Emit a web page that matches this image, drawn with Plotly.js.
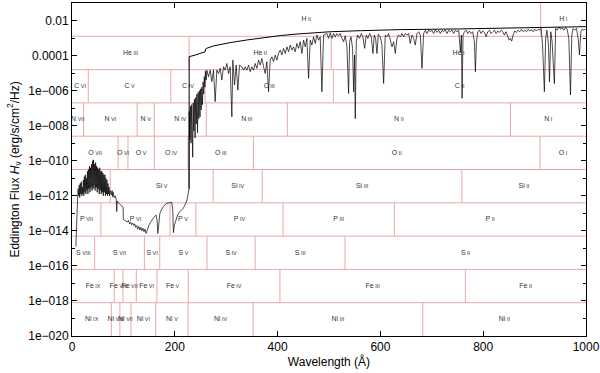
<!DOCTYPE html>
<html><head><meta charset="utf-8">
<script src="https://cdn.plot.ly/plotly-3.0.1.min.js"></script>
<style>html,body{margin:0;padding:0;background:#fff}#chart{width:600px;height:373px}</style>
</head><body><div id="chart"></div>
<script>
// ---- Data: model spectrum, [wavelength (Å), log10 Eddington flux] ----
const spectrum = [
[7.5,-14.9],[8.5,-13.6],[9.5,-12.6],[10.3,-12.2],
[11,-12.1],[12,-11.6],[13,-12.0],[14,-11.4],[15,-12.1],[16,-11.3],[17,-11.9],[18,-11.2],[19,-12.0],[20,-11.5],
[21,-11.9],[22,-11.1],[23,-12.0],[24,-10.9],[25,-11.8],[26,-10.8],[27,-11.9],[28,-11.0],[29,-11.7],[30,-10.6],
[31,-11.9],[32,-10.5],[33,-11.6],[34,-10.3],[35,-11.8],[36,-10.4],[37,-11.5],[38,-10.2],[39,-11.7],[40,-10.0],
[41,-11.6],[42,-9.95],[43,-11.4],[44,-10.2],[45,-11.7],[46,-10.1],[47,-11.5],[48,-10.3],[49,-11.8],[50,-10.4],
[51,-11.6],[52,-10.5],[53,-11.9],[54,-10.4],[55,-11.7],[56,-10.6],[57,-11.9],[58,-10.6],[59,-11.8],[60,-10.7],
[61,-12.0],[62,-10.8],[63,-11.8],[64,-10.8],[65,-12.0],[66,-11.0],[67,-11.9],[68,-11.1],[69,-12.0],[70,-11.3],
[71,-11.9],[72,-11.5],[73,-12.0],[74,-11.7],
[75,-11.85],[77,-11.95],[78,-11.7],[79,-12.05],[80,-11.8],[82,-12.1],[84,-12.0],[86,-12.2],[87,-12.9],[88,-12.3],
[90,-12.4],[92,-12.45],[95,-12.5],[98,-12.6],[99.5,-12.65],[100,-13.35],[103,-13.4],[106,-13.45],[108,-13.5],
[110,-13.4],[112,-13.6],[114,-13.5],[116,-13.65],[118,-13.55],[120,-13.7],[122,-13.6],[124,-13.8],[126,-13.7],
[128,-13.9],[130,-13.75],[132,-13.95],[134,-13.8],[136,-14.0],[138,-13.85],[140,-14.05],[142,-13.9],[144,-14.15],
[146,-14.0],[148,-13.8],[150,-13.65],[153,-13.5],[156,-13.35],[160,-13.2],[163.5,-13.1],[165.5,-13.4],[167,-14.15],
[168.5,-13.5],[171,-13.0],[175,-12.75],[178,-12.6],[183,-12.45],[188,-12.4],[194,-12.37],[196,-12.8],[197.3,-14.1],
[199,-13.7],[202.5,-13.3],[206,-13.05],[210,-12.9],[216.8,-12.7],[220,-12.5],[223,-12.3],[225,-12.05],[226.5,-11.8],
[227.6,-11.6],
[228.0,-7.2],[229.2,-8.8],[230.4,-6.9],[231.6,-9.0],[232.8,-6.8],[234.0,-8.4],[234.8,-9.8],[235.8,-6.7],[237.0,-8.3],
[238.2,-6.5],[239.4,-8.7],[240.6,-6.4],[241.8,-7.9],[243.0,-6.2],[244.2,-8.4],[245.4,-6.1],[246.6,-7.6],[247.8,-6.0],
[249.0,-7.5],[250.2,-5.9],[251.4,-7.1],[252.6,-5.8],[253.8,-6.8],[255.0,-5.5],[256.2,-6.2],[257.4,-5.2],[258.6,-5.8],
[259.8,-4.9],[261.0,-5.4],
[262.3,-4.83],[265.5,-5.21],[268.8,-4.83],[272.0,-5.49],[275.3,-4.83],[278.5,-6.63],[281.8,-4.83],[285.0,-5.02],
[288.3,-4.73],[291.5,-5.40],[294.8,-4.64],[298.0,-4.83],[301.2,-4.45],[304.5,-5.02],[307.7,-4.64],[311.0,-7.49],
[312.9,-4.26],[316.2,-5.68],[319.4,-4.54],[322.7,-5.97],[325.9,-4.54],[330.5,-4.64],[333.7,-4.83],[337.0,-4.64],
[340.2,-4.83],[343.5,-4.54],[346.7,-4.92],[350.0,-4.64],[353.2,-4.83],[356.4,-4.45],[359.7,-4.73],[362.9,-4.26],
[366.2,-4.54],[369.4,-4.16],[372.7,-4.64],[375.9,-5.02],[379.1,-4.35],[382.4,-6.06],[385.6,-4.26],[388.9,-4.07],
[392.1,-4.35],[395.4,-3.97],[398.6,-4.26],[401.8,-3.88],[405.1,-3.69],[408.3,-3.97],[411.6,-3.59],[414.8,-3.88],
[418.1,-3.50],[421.3,-3.78],[424.6,-3.40],[427.8,-3.69],[431.0,-3.50],[434.3,-3.78],[437.5,-3.31],[440.8,-3.59],
[444.0,-3.21],[447.3,-3.88],[450.5,-3.12],[453.8,-3.50],[457.0,-3.02],[460.2,-5.30],[463.5,-3.12],[466.7,-3.40],
[470.0,-2.93],[473.2,-3.31],[476.5,-2.83],[479.7,-3.12],[482.9,-2.93],[486.2,-6.06],[489.4,-2.83],[495.9,-2.74],
[499.2,-3.02],[502.4,-2.70],
[505.7,-3.02],[508.9,-2.74],[512.2,-2.93],[515.4,-2.74],[518.7,-2.87],[521.9,-2.74],[525.1,-3.02],[528.4,-3.21],
[531.6,-2.87],[534.9,-3.50],[538.1,-6.16],[540.1,-3.21],[542.7,-2.93],[545.9,-3.59],[547.9,-6.06],[549.8,-3.97],
[551.1,-7.6],[553.1,-3.21],[555.7,-2.83],[559.5,-3.02],[562.8,-2.74],[566.0,-2.93],[569.3,-3.59],[572.5,-2.83],
[575.8,-3.02],[579.0,-2.74],[582.3,-2.93],[585.5,-3.88],[588.1,-2.83],[590.7,-3.02],[593.3,-3.88],[595.9,-2.79],
[599.8,-2.93],[603.0,-3.40],[606.3,-5.59],[609.5,-2.83],[612.8,-2.93],[616.0,-2.74],[619.3,-3.12],[622.5,-3.50],
[625.7,-3.21],[629.0,-3.88],[632.2,-3.02],[635.5,-2.83],[638.7,-2.93],[642.0,-2.74],[645.2,-2.93],[648.5,-2.74],
[651.7,-2.83],[654.9,-2.74],[658.2,-3.31],[661.4,-2.83],[664.7,-3.02],[667.9,-3.40],[671.2,-2.74],[674.4,-2.64],
[677.7,-2.83],[680.9,-4.73],[684.1,-2.74],[687.4,-2.56],[690.6,-2.74],[693.9,-2.53],[697.1,-2.64],[700.4,-2.56],
[703.6,-2.74],[706.9,-2.53],[710.1,-2.68],[713.4,-2.56],[716.6,-2.74],[719.9,-2.56],[723.1,-2.64],[726.3,-2.53],
[729.6,-2.74],[732.8,-2.56],[736.1,-2.64],[739.3,-2.54],[742.6,-2.74],[745.8,-2.56],
[749.1,-2.64],[752.4,-2.55],[755.6,-3.78],[757.6,-2.83],[758.9,-6.44],[760.8,-2.83],[763.4,-2.64],[766.7,-2.55],
[769.9,-2.74],[773.2,-2.60],[776.4,-2.74],[779.6,-2.64],[782.9,-3.21],[784.8,-4.92],[786.8,-3.21],[789.4,-2.64],
[792.6,-2.55],[795.9,-2.74],[799.1,-2.60],[802.4,-2.68],[805.6,-2.93],[808.9,-2.64],[812.1,-2.55],[815.3,-2.74],
[818.6,-2.64],[821.8,-2.55],[825.1,-2.74],[828.3,-2.60],[831.6,-2.68],[834.8,-2.55],[838.1,-2.64],[841.3,-2.83],
[844.5,-2.64],[847.8,-2.93],[850.4,-3.12],[853.0,-3.02],[855.6,-3.17],[858.2,-2.83],[861.4,-2.60],[864.7,-2.68],
[867.9,-2.55],[871.2,-2.64],[874.4,-2.50],[877.6,-2.64],[880.9,-2.55],[884.1,-2.64],[887.4,-2.50],[890.6,-2.60],
[893.9,-2.53],[897.1,-2.64],[900.4,-2.50],[903.6,-2.60],[906.9,-2.49],[910.1,-2.55],[912.7,-2.45],[915.5,-3.4],
[919.0,-6.06],[921.5,-3.02],[924.0,-2.55],[927.0,-3.4],[929.0,-5.5],[931.5,-2.64],[934.0,-3.2],[938.5,-5.6],
[941.0,-2.45],[943.8,-2.55],[947.1,-2.36],[950.3,-2.49],[953.6,-2.41],[956.8,-2.55],[960.1,-2.41],[963.3,-2.49],
[966.6,-3.02],[969.8,-6.25],[972.4,-2.83],[975.0,-2.45],[978.2,-2.55],[981.5,-2.45],[984.7,-3.02],[987.3,-3.97],
[989.9,-2.64],[992.5,-2.49],[995.8,-2.55],[999.0,-2.49]
];
// Upper smooth (continuum) curve, [wavelength (Å), log10 flux]
const continuum = [
[227.8,-11.6],[228.0,-4.06],[240,-3.97],[255.7,-3.81],[259,-3.78],[260,-3.62],[262.3,-3.58],[275.2,-3.45],
[290,-3.35],[307.7,-3.26],[340.2,-3.11],[372.5,-2.98],[405,-2.86],[437.6,-2.77],[470,-2.69],[502.4,-2.64],
[561,-2.58],[638.7,-2.52],[751.7,-2.48],[833.5,-2.45],[911.4,-2.42],[1000,-2.35]
];
// Ionization-edge rows (top to bottom)
const rowElements = ['H','He','C','N','O','Si','P','S','Fe','Ni'];
const rowEdges = [
[911.8],
[227.8,504.3],
[31.62,192.2,258.9,508.5],
[22.46,126.7,160.0,261.3,418.9,853.1],
[89.77,108.9,160.2,225.7,353.0,910.4],
[74.35,274.7,370.2,758.5],
[56.25,190.7,241.0,410.5,627.2],
[44.13,140.8,170.8,262.6,356.4,531.2],
[82.1,99.2,125.1,165.3,226.2,404.5,765.3],
[76.5,93.2,114.8,163.0,225.8,352.3,682.4]
];
const rowIons = [
['II','I'],
['III','II','I'],
['VI','V','IV','III','II'],
['VII','VI','V','IV','III','II','I'],
['VII','VI','V','IV','III','II','I'],
['VI','V','IV','III','II'],
['VII','VI','V','IV','III','II'],
['VIII','VII','VI','V','IV','III','II'],
['IX','VIII','VII','VI','V','IV','III','II'],
['IX','VIII','VII','VI','V','IV','III','II']
];
const xRange = [0, 1000];
const yLogRange = [-20, -1];
const xTickVals = [0,200,400,600,800,1000];
const yTickExp = [-20,-18,-16,-14,-12,-10,-8,-6,-4,-2];
const yTickText = ['1e\u2212020','1e\u2212018','1e\u2212016','1e\u2212014','1e\u2212012','1e\u2212010','1e\u2212008','1e\u2212006','0.0001','0.01'];
const yMinorExp = [-19,-17,-15,-13,-11,-9,-7,-5,-3];

// ---- Build ----
const EDGE = '#eaa8a8';
const shapes = [];
const lx = [], ly = [], lt = [];
const nRows = rowElements.length;
const rowH = (yLogRange[1]-yLogRange[0])/nRows;
for (let k = 1; k < nRows; k++) {
  shapes.push({type:'line', xref:'paper', yref:'paper', x0:0, x1:1, y0:k/nRows, y1:k/nRows,
    line:{color:EDGE, width:1}, layer:'below'});
}
rowElements.forEach((el, t) => {
  const rb = nRows-1-t;
  const edges = rowEdges[t];
  edges.forEach(e => shapes.push({type:'line', xref:'x', yref:'paper', x0:e, x1:e,
    y0:rb/nRows, y1:(rb+1)/nRows, line:{color:EDGE, width:1}, layer:'below'}));
  const b = [xRange[0], ...edges, xRange[1]];
  rowIons[t].forEach((ion, i) => {
    lx.push((b[i]+b[i+1])/2);
    ly.push(Math.pow(10, yLogRange[0] + (rb+0.5)*rowH));
    lt.push(el + '<span style="font-size:5.5px"> ' + ion + '</span>');
  });
});

const traces = [
  {x:lx, y:ly, text:lt, mode:'text', type:'scatter', hoverinfo:'skip',
   textfont:{family:'Liberation Sans, Arial, sans-serif', size:7, color:'#333'}, showlegend:false},
  {x:continuum.map(p=>p[0]), y:continuum.map(p=>Math.pow(10,p[1])), mode:'lines', type:'scatter',
   line:{color:'#000', width:1}, showlegend:false},
  {x:spectrum.map(p=>p[0]), y:spectrum.map(p=>Math.pow(10,p[1])), mode:'lines', type:'scatter',
   line:{color:'#000', width:0.7}, showlegend:false}
];

const font = {family:'Liberation Sans, Arial, sans-serif', size:12, color:'#000'};
const layout = {
  width:600, height:373,
  margin:{l:72, r:14, t:3, b:37},
  paper_bgcolor:'#fff', plot_bgcolor:'#fff',
  font: font,
  showlegend:false,
  shapes: shapes,
  xaxis:{range:xRange, tickvals:xTickVals, ticks:'inside', ticklen:5, tickcolor:'#000',
    showline:true, linecolor:'#000', linewidth:1, mirror:'ticks', showgrid:false, zeroline:false,
    tickfont:font, title:{text:'Wavelength (Å)', font:font, standoff:4}},
  yaxis:{type:'log', range:yLogRange, tickvals:yTickExp.map(e=>Math.pow(10,e)), ticktext:yTickText,
    ticks:'inside', ticklen:5, tickcolor:'#000', showline:true, linecolor:'#000', linewidth:1,
    mirror:'ticks', showgrid:false, zeroline:false, tickfont:font,
    minor:{tickmode:'array', tickvals:yMinorExp.map(e=>Math.pow(10,e)), ticks:'inside', ticklen:3, tickcolor:'#000', showgrid:false},
    title:{text:'Eddington Flux <i>H</i><sub>ν</sub> (erg/s/cm<sup>2</sup>/Hz)', font:font, standoff:6}}
};
Plotly.newPlot('chart', traces, layout, {staticPlot:true, displayModeBar:false});
</script></body></html>
